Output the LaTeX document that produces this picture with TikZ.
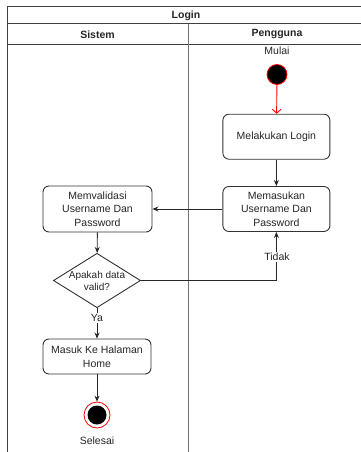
\documentclass[tikz,border=0pt]{standalone}
\usepackage{fontspec}
\setmainfont{Liberation Sans}
\usetikzlibrary{shapes.geometric,arrows.meta}
\begin{document}
\begin{tikzpicture}[x=1pt,y=-1pt,
  every node/.style={font=\fontsize{10.5}{13.5}\selectfont, text=black!85},
  frame/.style={draw=black!75, line width=1pt},
  act/.style={draw=black!80, rounded corners=6pt, line width=0.9pt,
    minimum width=107pt, minimum height=45pt, align=center, inner sep=1pt, fill=white},
  decide/.style={diamond, draw=black!80, line width=0.9pt, aspect=1.6,
    minimum width=72pt, minimum height=45pt, inner sep=0pt, align=center,
    font=\fontsize{10}{12}\selectfont, fill=white},
  flow/.style={draw=black!85, line width=0.9pt, -{Stealth[length=6pt,width=5pt]}},
  redflow/.style={draw=red, line width=0.9pt, -{Straight Barb[length=4pt,width=9pt]}},
  lbl/.style={fill=white, inner sep=1pt},
  head/.style={font=\fontsize{10.5}{12}\selectfont\bfseries}
]
\useasboundingbox (0,0) rectangle (361,452);
\clip (0,0) rectangle (361,452);

% swimlane frame
\draw[frame] (7,7) rectangle (366,475);
\draw[frame] (7,24) -- (366,24);
\draw[frame] (7,45) -- (366,45);
\draw[draw=black!55, line width=1pt] (188,24) -- (188,475);
\node[head] (title) at (186,15.5) {Login};
\node[head] (laneA) at (97.5,34.5) {Sistem};
\node[head] (laneB) at (277,34.5) {Pengguna};

% Pengguna lane
\node (mulai) at (277,51) {Mulai};
\node[circle, fill=black, draw=red, line width=0.8pt, minimum size=20pt, inner sep=0pt] (start) at (277,74.5) {};
\node[act] (login) at (276.4,136.7) {Melakukan Login};
\node[act] (input) at (276.4,209) {Memasukan\\Username Dan\\Password};

% Sistem lane
\node[act, minimum width=109pt, minimum height=46pt] (valid) at (97.5,209) {Memvalidasi\\Username Dan\\Password};
\node[decide] (cek) at (97,280.5) {Apakah data\\valid?};
\node[act, minimum width=108pt, minimum height=35pt] (home) at (97,356.5) {Masuk Ke Halaman\\Home};
\node[circle, draw=red, line width=0.8pt, fill=white, minimum size=26pt, inner sep=0pt] (fin) at (97,415) {};
\node[circle, fill=black, minimum size=19pt, inner sep=0pt] (finc) at (fin) {};
\node (selesai) at (97,441) {Selesai};

% connectors
\draw[redflow] (start) -- (login);
\draw[flow] (login) -- (input);
\draw[flow] (input) -- (valid);
\draw[flow] (valid) -- (cek);
\draw[flow] (cek.east) -| (input.south);
\node[lbl] (tidak) at (277,257) {Tidak};
\draw[flow] (cek) -- (home);
\node[lbl] (ya) at (97,318) {Ya};
\draw[flow] (home) -- (fin);
\end{tikzpicture}
\end{document}
